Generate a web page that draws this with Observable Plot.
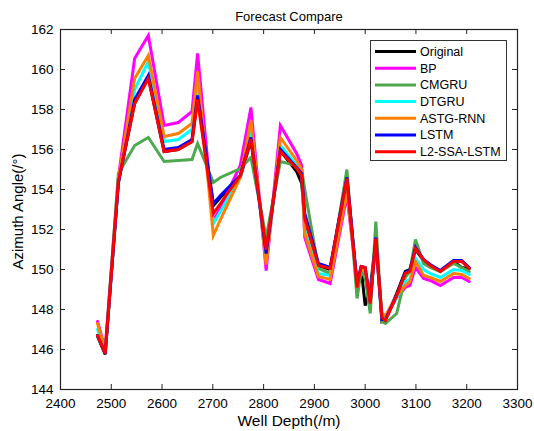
<!DOCTYPE html>
<html><head><meta charset="utf-8">
<script src="https://cdn.jsdelivr.net/npm/d3@7"></script>
<script src="https://cdn.jsdelivr.net/npm/@observablehq/plot@0.6"></script>
<style>
body{margin:0;background:#fff;font-family:"Liberation Sans",Arial,sans-serif}
#wrap{position:relative;width:534px;height:431px}
#legend{position:absolute;left:370px;top:40px;width:137px;height:121px;border:1px solid #333;background:#fff;box-sizing:border-box}
</style></head>
<body><div id="wrap"></div>
<script>
const depth = [2473,2488,2514,2546,2573,2604,2632,2659,2670,2701,2715,2754,2775,2805,2833,2865,2875,2881,2908,2931,2964,2984,2992,3000,3010,3021,3033,3040,3062,3079,3088,3099,3115,3128,3148,3174,3190,3205];
const original = [146.65,145.75,154.4,158.3,159.6,155.9,156.0,156.4,158.6,153.2,153.6,154.6,156.45,151.1,155.95,154.9,154.3,152.5,150.2,150.0,154.7,149.2,150.1,148.2,149.0,151.5,147.4,147.5,148.8,149.9,150.0,151.0,150.45,150.2,149.9,150.4,150.1,150.05];
const bp = [147.4,146.0,154.6,160.55,161.7,157.2,157.35,157.9,160.8,152.4,153.1,155.2,158.1,149.95,157.2,155.8,155.2,151.6,149.5,149.3,153.7,149.4,150.0,149.9,148.7,151.2,147.7,147.6,148.6,149.1,149.2,150.1,149.55,149.45,149.2,149.6,149.6,149.4];
const cmgru = [146.7,145.8,154.8,156.2,156.6,155.4,155.45,155.5,156.3,154.35,154.6,155.05,155.6,151.6,155.4,155.2,155.0,154.0,150.05,149.8,155.0,148.55,149.9,149.6,147.8,152.4,147.4,147.3,147.8,149.6,149.9,151.5,150.3,150.1,149.9,150.3,150.1,149.9];
const dtgru = [147.0,145.9,154.4,159.0,160.4,156.4,156.5,157.0,159.4,152.3,152.9,154.6,157.0,150.5,156.2,155.2,154.9,152.0,149.8,149.7,154.2,149.3,150.0,149.9,148.5,151.4,147.7,147.6,148.6,149.4,149.5,150.55,150.0,149.8,149.6,150.0,149.95,149.75];
const astg = [147.3,145.95,154.5,159.55,160.7,156.65,156.8,157.3,159.9,151.7,152.5,154.6,157.45,150.25,156.6,155.45,155.0,151.8,149.65,149.5,153.9,149.4,150.0,149.9,148.6,151.3,147.8,147.7,148.7,149.2,149.4,150.4,149.7,149.6,149.4,149.8,149.75,149.55];
const lstm = [146.7,145.8,154.3,158.5,159.7,156.0,156.1,156.5,158.7,153.3,153.7,154.7,156.6,150.8,156.0,155.1,154.8,152.8,150.3,150.1,154.6,149.3,150.15,150.1,148.4,151.6,147.5,147.5,148.7,149.85,149.95,151.1,150.5,150.25,149.95,150.45,150.45,150.1];
const l2ssa = [146.7,145.8,154.4,158.3,159.55,155.9,156.0,156.4,158.5,152.8,153.3,154.7,156.5,151.0,155.9,155.05,154.7,152.55,150.2,150.05,154.55,149.1,150.15,150.1,148.3,151.55,147.6,147.45,148.7,149.8,149.9,151.05,150.5,150.2,149.9,150.4,150.4,150.05];

const names = ["Original","BP","CMGRU","DTGRU","ASTG-RNN","LSTM","L2-SSA-LSTM"];
const colors = ["#000000","#ff00ff","#4ea84e","#00ffff","#ff8000","#0000ff","#ff0000"];
const seriesValues = [original,bp,cmgru,dtgru,astg,lstm,l2ssa];
const xTicks = [2400,2500,2600,2700,2800,2900,3000,3100,3200,3300];
const yTicks = [144,146,148,150,152,154,156,158,160,162];
const titleText = "Forecast Compare";
const xLabel = "Well Depth(/m)";
const yLabel = "Azimuth Angle(/°)";

const rows = [];
names.forEach((n,i)=>depth.forEach((d,j)=>rows.push({series:n,depth:d,value:seriesValues[i][j]})));

const xDom=[2400,3300], yDom=[144,162];
const W=534,H=431,mL=60,mR=17,mT=29,mB=42;
const tx = 5*(xDom[1]-xDom[0])/(W-mL-mR);
const ty = 5*(yDom[1]-yDom[0])/(H-mT-mB);

const chart = Plot.plot({
  width:W, height:H, marginLeft:mL, marginRight:mR, marginTop:mT, marginBottom:mB,
  style:{fontFamily:"Liberation Sans, Arial, sans-serif", fontSize:"13px", background:"#fff", color:"#000"},
  x:{domain:xDom},
  y:{domain:yDom},
  color:{domain:names, range:colors},
  marks:[
    Plot.axisX({ticks:xTicks, tickSize:0, tickPadding:9, label:null, tickFormat:d=>String(d), fontSize:13.5}),
    Plot.axisY({ticks:yTicks, tickSize:0, tickPadding:7, label:null, fontSize:13.5}),
    ...names.map(n=>Plot.line(rows.filter(r=>r.series===n),{x:"depth",y:"value",stroke:"series",strokeWidth:3,strokeLinejoin:"miter",strokeMiterlimit:4})),
    Plot.ruleX(xTicks,{x:d=>d,y1:yDom[0],y2:yDom[0]+ty,stroke:"#222"}),
    Plot.ruleX(xTicks,{x:d=>d,y1:yDom[1]-ty,y2:yDom[1],stroke:"#222"}),
    Plot.ruleY(yTicks,{y:d=>d,x1:xDom[0],x2:xDom[0]+tx,stroke:"#222"}),
    Plot.ruleY(yTicks,{y:d=>d,x1:xDom[1]-tx,x2:xDom[1],stroke:"#222"}),
    Plot.frame({stroke:"#222",strokeWidth:1.2}),
    Plot.text([titleText],{frameAnchor:"top",dy:-18,fontSize:13,fill:"#000",textAnchor:"middle"}),
    Plot.text([xLabel],{frameAnchor:"bottom",dy:36,fontSize:15.5,fill:"#000",textAnchor:"middle"}),
    Plot.text([yLabel],{frameAnchor:"left",dx:-42,dy:2,rotate:-90,fontSize:15,fill:"#000",textAnchor:"middle"})
  ]
});
const wrap=document.getElementById("wrap");
wrap.appendChild(chart);

const leg=document.createElement("div");
leg.id="legend";
const ns="http://www.w3.org/2000/svg";
const svg=document.createElementNS(ns,"svg");
svg.setAttribute("width","135");svg.setAttribute("height","119");
names.forEach((n,i)=>{
  const yy=10.5+i*16.7;
  const l=document.createElementNS(ns,"line");
  l.setAttribute("x1","4");l.setAttribute("x2","45");l.setAttribute("y1",yy);l.setAttribute("y2",yy);
  l.setAttribute("stroke",colors[i]);l.setAttribute("stroke-width","3");
  svg.appendChild(l);
  const t=document.createElementNS(ns,"text");
  t.setAttribute("x","49");t.setAttribute("y",yy);t.setAttribute("dy","0.35em");
  t.setAttribute("font-size","12.5");t.setAttribute("font-family","Liberation Sans, Arial, sans-serif");
  t.textContent=n;svg.appendChild(t);
});
leg.appendChild(svg);
wrap.appendChild(leg);
</script></body></html>
